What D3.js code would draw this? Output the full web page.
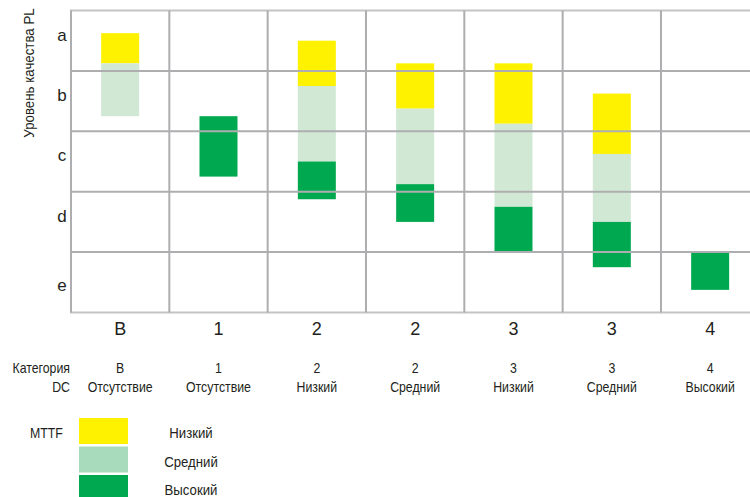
<!DOCTYPE html>
<html><head><meta charset="utf-8">
<script src="https://cdn.jsdelivr.net/npm/d3@7"></script>
<style>
body{margin:0;background:#fff;}
svg{display:block;}
.n{font-family:"Liberation Sans Narrow","Arial Narrow","Liberation Sans",sans-serif;}
.w{font-family:"Liberation Sans",Arial,sans-serif;}
</style></head>
<body>
<svg id="c" width="750" height="497"></svg>
<script>
const levels = ["a","b","c","d","e"];
const levelTickPos = [0.4, 1.4, 2.4, 3.4, 4.55];
const categories = ["B","1","2","2","3","3","4"];
const dcLabels = ["Отсутствие","Отсутствие","Низкий","Средний","Низкий","Средний","Высокий"];
// segments in PL-level units (0 = top of "a", 5 = bottom of "e")
const mttfLow  = [[0.375,0.875], null, [0.5,1.25], [0.875,1.625], [0.875,1.875], [1.375,2.375], null];
const mttfMed  = [[0.875,1.75], null, [1.25,2.5], [1.625,2.875], [1.875,3.25], [2.375,3.5], null];
const mttfHigh = [null, [1.75,2.75], [2.5,3.125], [2.875,3.5], [3.25,4.0], [3.5,4.25], [4.0,4.625]];
const legendNames = ["Низкий","Средний","Высокий"];
const barColors = ["#fff200","#d0e8d4","#00a94f"];
const legendColors = ["#fff200","#a8dbbb","#00a94f"];

const svg = d3.select("#c");
const x = d3.scaleBand().domain(d3.range(categories.length)).range([71, 71 + 7*98.33]).padding(0);
const y = d3.scaleLinear().domain([0,5]).range([10.5, 312.5]);
const barW = 38;
const ink = "#231f20";
const sx = 0.88;

function ntext(parent, tx, ty, str, anchor, size){
  return parent.append("text").attr("class","n")
    .attr("transform",`translate(${tx},${ty}) scale(${sx},1)`)
    .attr("text-anchor",anchor).attr("font-size",size).attr("fill",ink).text(str);
}

// bars
const series = [mttfLow, mttfMed, mttfHigh];
series.forEach((s,si)=>{
  svg.append("g").selectAll("rect").data(s.map((d,i)=>({d,i})).filter(o=>o.d))
    .join("rect")
    .attr("x", o=> x(o.i) + x.bandwidth()/2 - barW/2)
    .attr("width", barW)
    .attr("y", o=> y(o.d[0]))
    .attr("height", o=> y(o.d[1]) - y(o.d[0]))
    .attr("fill", barColors[si]);
});

// grid
const g = svg.append("g");
d3.range(0,6).forEach(v=>{
  g.append("line").attr("x1",70).attr("x2",750).attr("y1",y(v)).attr("y2",y(v))
   .attr("stroke", (v===0||v===5) ? "#c4c4c6" : "#aeaeb0").attr("stroke-width",2);
});
d3.range(0,7).forEach(i=>{
  g.append("line").attr("x1",x(i)).attr("x2",x(i)).attr("y1",y(0)).attr("y2",y(5))
   .attr("stroke","#aeaeb0").attr("stroke-width",2);
});

// level labels
svg.append("g").selectAll("text").data(levels).join("text")
  .attr("class","w").attr("x",62).attr("y",(d,i)=>y(levelTickPos[i])+6)
  .attr("text-anchor","middle").attr("font-size",17).attr("fill",ink).text(d=>d);

// y title
svg.append("text").attr("class","n").attr("transform","translate(34,73) rotate(-90) scale(0.95,1)")
  .attr("text-anchor","middle").attr("font-size",14).attr("fill",ink).text("Уровень качества PL");

// category axis labels
svg.append("g").selectAll("text").data(categories).join("text")
  .attr("class","w").attr("x",(d,i)=>x(i)+x.bandwidth()/2).attr("y",335)
  .attr("text-anchor","middle").attr("font-size",18).attr("fill",ink).text(d=>d);

// table rows
ntext(svg, 70, 373, "Категория", "end", 14);
ntext(svg, 70, 392, "DC", "end", 14);
categories.forEach((c,i)=> ntext(svg, x(i)+x.bandwidth()/2, 373, c, "middle", 14));
dcLabels.forEach((c,i)=> ntext(svg, x(i)+x.bandwidth()/2, 392, c, "middle", 14));

// legend
ntext(svg, 30, 438, "MTTF", "start", 14);
legendNames.forEach((n,i)=>{
  svg.append("rect").attr("x",79).attr("y",418 + i*28.5).attr("width",49).attr("height",26)
    .attr("fill",legendColors[i]);
  ntext(svg, 191, 438 + i*28.5, n, "middle", 15);
});
</script>
</body></html>
